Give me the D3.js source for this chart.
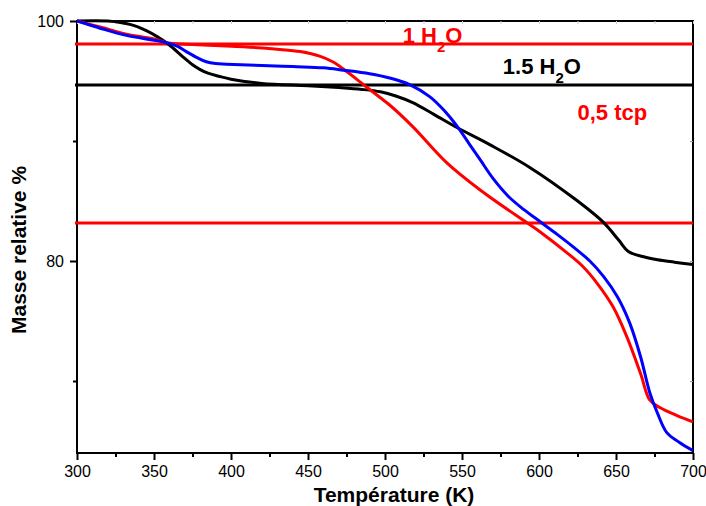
<!DOCTYPE html>
<html><head><meta charset="utf-8">
<script src="https://cdn.jsdelivr.net/npm/d3@7"></script>
<style>body{margin:0;background:#fff}svg{display:block}</style>
</head><body>
<svg id="c" width="706" height="506"></svg>
<script>
const xTicks = [300,350,400,450,500,550,600,650,700];
const xMinor = [325,375,425,475,525,575,625,675];
const yTicks = [100,80];
const yMinor = [90,70];
const blackT = [300,320,335,345,352,360,368,375,380,385,392,400,420,450,470,485,497,507,518,532,547,568,594,624,642,652,658,668,677,688,700];
const blackV = [100,100,99.7,99.2,98.7,98.0,97.1,96.35,95.95,95.65,95.4,95.15,94.8,94.6,94.45,94.3,94.1,93.75,93.2,92.2,91.1,89.7,87.8,85.1,83.2,81.7,80.8,80.35,80.1,79.9,79.7];
const blueT = [300,315,332,350,358,365,371,378,384,390,397,420,440,460,473,490,503,516,529,538,547,555,562,570,580,590,601,612,622,633,642,651,659,666,672,677,683,691,700];
const blueV = [100,99.4,98.8,98.4,98.2,97.9,97.45,96.95,96.6,96.45,96.4,96.3,96.2,96.1,95.9,95.6,95.25,94.7,93.7,92.6,91.2,89.7,88.4,86.9,85.4,84.3,83.25,82.2,81.2,80.0,78.7,77.0,74.8,72.0,69.0,67.3,65.7,64.9,64.2];
const redT = [300,315,332,350,358,365,375,390,408,430,445,458,466,473,488,497,503,518,540,562,592,601,618,628,638,648,657,666,672,679,690,700];
const redV = [100,99.5,98.9,98.5,98.2,98.1,98.05,97.95,97.85,97.65,97.45,97.05,96.6,96.0,94.5,93.6,93.0,91.2,88.2,85.9,83.2,82.4,80.7,79.6,78.1,76.2,73.7,70.6,68.4,67.75,67.1,66.6];
const hLines = [{v:98.08,c:"#ff0000"},{v:94.67,c:"#000000"},{v:83.17,c:"#ff0000"}];
const labels = [
  {t:"1 H",sub:"2",t2:"O",T:511.5,v:98.17,c:"#ff0000"},
  {t:"1.5 H",sub:"2",t2:"O",T:576.5,v:95.6,c:"#000000"},
  {t:"0,5 tcp",sub:"",t2:"",T:625,v:91.75,c:"#ff0000"}
];

const svg = d3.select("#c");
const L=77,R=693,T=21,B=453;
const x = d3.scaleLinear().domain([300,700]).range([L,R]);
const y = d3.scaleLinear().domain([64,100]).range([B,T]);
const font = "Arial, 'Liberation Sans', Helvetica, sans-serif";

svg.append("rect").attr("x",L).attr("y",T).attr("width",R-L).attr("height",B-T)
  .attr("fill","none").attr("stroke","#000").attr("stroke-width",2);

const xa = svg.append("g").attr("transform",`translate(0,${B})`)
  .call(d3.axisBottom(x).tickValues(xTicks).tickSize(7).tickPadding(6).tickFormat(d3.format("d")));
xa.select(".domain").remove();
xa.selectAll("line").attr("stroke-width",2);
xa.selectAll("text").attr("font-family",font).attr("font-size",16).attr("fill","#000");
const xm = svg.append("g").attr("transform",`translate(0,${B})`)
  .call(d3.axisBottom(x).tickValues(xMinor).tickSize(4).tickFormat(""));
xm.select(".domain").remove(); xm.selectAll("line").attr("stroke-width",2);

const xt = svg.append("g").attr("transform",`translate(0,${T})`)
  .call(d3.axisBottom(x).tickValues(xTicks.concat(xMinor)).tickSize(3).tickFormat(""));
xt.select(".domain").remove(); xt.selectAll("line").attr("stroke","#ccc");

const ya = svg.append("g").attr("transform",`translate(${L},0)`)
  .call(d3.axisLeft(y).tickValues(yTicks).tickSize(7).tickPadding(6).tickFormat(d3.format("d")));
ya.select(".domain").remove();
ya.selectAll("line").attr("stroke-width",2);
ya.selectAll("text").attr("font-family",font).attr("font-size",16).attr("fill","#000");
const ym = svg.append("g").attr("transform",`translate(${L},0)`)
  .call(d3.axisLeft(y).tickValues(yMinor).tickSize(4).tickFormat(""));
ym.select(".domain").remove(); ym.selectAll("line").attr("stroke-width",2);
const yr = svg.append("g").attr("transform",`translate(${R},0)`)
  .call(d3.axisLeft(y).tickValues([90,80,70]).tickSize(3).tickFormat(""));
yr.select(".domain").remove(); yr.selectAll("line").attr("stroke","#999");

svg.append("text").attr("x",394).attr("y",502).attr("text-anchor","middle")
  .attr("font-family",font).attr("font-weight","bold").attr("font-size",21).text("Température (K)");
svg.append("text").attr("transform",`translate(26,250) rotate(-90)`).attr("text-anchor","middle")
  .attr("font-family",font).attr("font-weight","bold").attr("font-size",21).text("Masse relative %");

svg.selectAll(".hl").data(hLines).join("line").attr("class","hl")
  .attr("x1",L-2).attr("x2",R).attr("y1",d=>y(d.v)).attr("y2",d=>y(d.v))
  .attr("stroke",d=>d.c).attr("stroke-width",3);

const line = d3.line().x(d=>x(d[0])).y(d=>y(d[1])).curve(d3.curveCatmullRom.alpha(0.5));
const series = [
  {T:blackT,V:blackV,c:"#000000"},
  {T:redT,V:redV,c:"#ff0000"},
  {T:blueT,V:blueV,c:"#0000ff"}
];
svg.append("clipPath").attr("id","cp").append("rect").attr("x",L).attr("y",T-2).attr("width",R-L).attr("height",B-T+2);
svg.append("g").attr("clip-path","url(#cp)").selectAll("path").data(series).join("path")
  .attr("d",s=>line(s.T.map((t,i)=>[t,s.V[i]])))
  .attr("fill","none").attr("stroke",s=>s.c).attr("stroke-width",3);

labels.forEach(l=>{
  const tx = svg.append("text").attr("x",x(l.T)).attr("y",y(l.v))
    .attr("font-family",font).attr("font-weight","bold").attr("font-size",22).attr("fill",l.c);
  tx.append("tspan").text(l.t);
  if(l.sub){
    tx.append("tspan").attr("dy",9).attr("font-size",15).text(l.sub);
    tx.append("tspan").attr("dy",-9).text(l.t2);
  }
});
</script>
</body></html>
